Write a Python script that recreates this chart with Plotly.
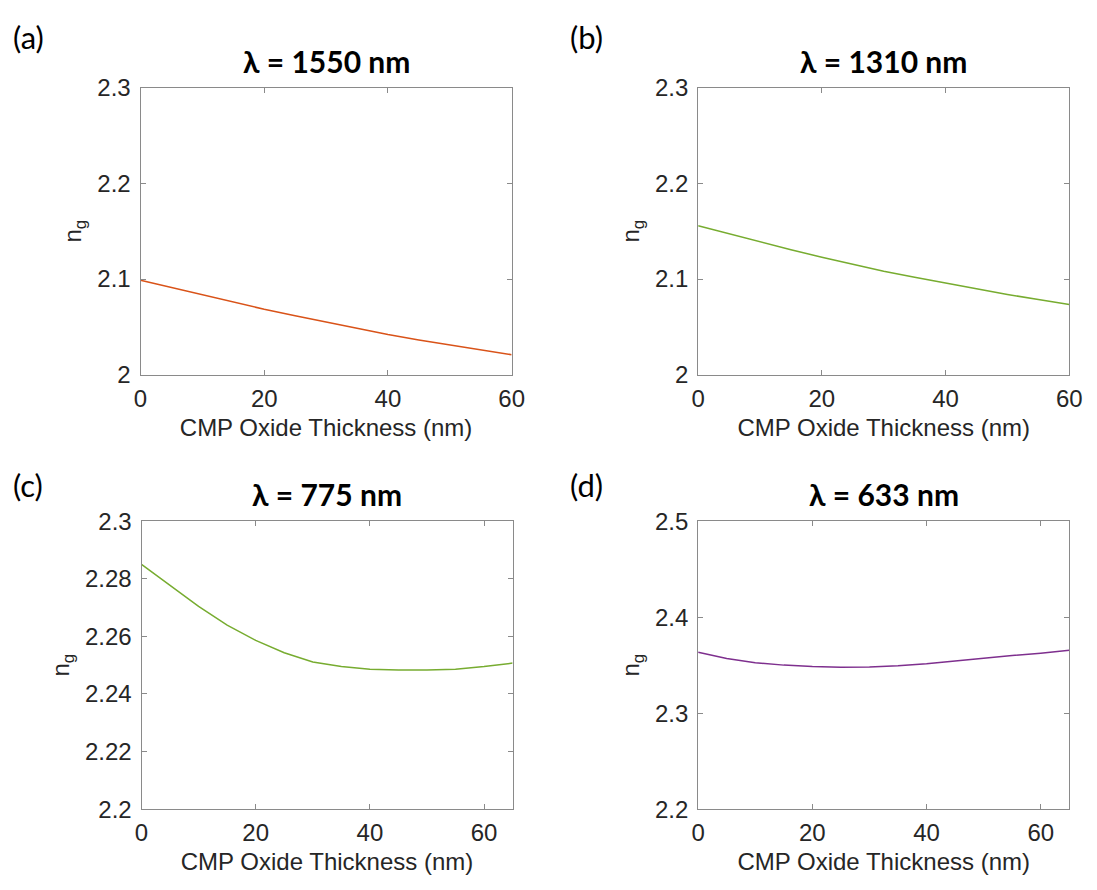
import plotly.graph_objects as go

W, H = 1097, 890

# ---- data ----
x_a = [0, 5, 10, 15, 20, 25, 30, 35, 40, 45, 50, 55, 60]
ng_a = [2.0988, 2.0912, 2.0839, 2.0760, 2.0684, 2.0616, 2.0550, 2.0484,
        2.0421, 2.0364, 2.0310, 2.0258, 2.0209]

x_b = [0, 5, 10, 15, 20, 25, 30, 35, 40, 45, 50, 55, 60]
ng_b = [2.1556, 2.1470, 2.1387, 2.1306, 2.1228, 2.1153, 2.1082, 2.1018,
        2.0957, 2.0896, 2.0839, 2.0785, 2.0734]

x_c = [0, 5, 10, 15, 20, 25, 30, 35, 40, 45, 50, 55, 60, 65]
ng_c = [2.2850, 2.2777, 2.2704, 2.2639, 2.2586, 2.2543, 2.2511, 2.2495,
        2.2486, 2.2483, 2.2483, 2.2486, 2.2495, 2.2507]

x_d = [0, 5, 10, 15, 20, 25, 30, 35, 40, 45, 50, 55, 60, 65]
ng_d = [2.3634, 2.3570, 2.3525, 2.3500, 2.3485, 2.3479, 2.3481, 2.3494,
        2.3515, 2.3545, 2.3576, 2.3600, 2.3624, 2.3654]

titles = ["λ = 1550 nm", "λ = 1310 nm", "λ = 775 nm", "λ = 633 nm"]
panel_labels = ["(a)", "(b)", "(c)", "(d)"]
colors = ["#D95319", "#77AC30", "#77AC30", "#7E2F8E"]

x_ticks = [0, 20, 40, 60]
y_ticks_ab = [2.0, 2.1, 2.2, 2.3]
y_ticktext_ab = ["2", "2.1", "2.2", "2.3"]
y_ticks_c = [2.2, 2.22, 2.24, 2.26, 2.28, 2.3]
y_ticktext_c = ["2.2", "2.22", "2.24", "2.26", "2.28", "2.3"]
y_ticks_d = [2.2, 2.3, 2.4, 2.5]
y_ticktext_d = ["2.2", "2.3", "2.4", "2.5"]

x_ranges = [[0, 60], [0, 60], [0, 65], [0, 65]]
y_ranges = [[2.0, 2.3], [2.0, 2.3], [2.2, 2.3], [2.2, 2.5]]
y_tick_sets = [(y_ticks_ab, y_ticktext_ab), (y_ticks_ab, y_ticktext_ab),
               (y_ticks_c, y_ticktext_c), (y_ticks_d, y_ticktext_d)]
xs = [x_a, x_b, x_c, x_d]
ys = [ng_a, ng_b, ng_c, ng_d]

# ---- layout geometry (pixels) ----
boxes = [(136, 514, 76, 372), (704, 1082, 76, 372),
         (137, 515, 523, 820), (704, 1082, 523, 820)]

AX_COL = "#8a8a8a"
TXT_COL = "#262626"
FONT = "Liberation Sans, Arial, sans-serif"
TFONT = "Lato, Open Sans, sans-serif"
FS = 24

fig = go.Figure()
layout = dict(
    width=W, height=H, margin=dict(l=0, r=0, t=0, b=0),
    paper_bgcolor="white", plot_bgcolor="white", showlegend=False,
    font=dict(family=FONT, color=TXT_COL, size=FS),
)
annotations = []
for i in range(4):
    n = "" if i == 0 else str(i + 1)
    x0, x1, y0, y1 = boxes[i]
    fig.add_trace(go.Scatter(x=xs[i], y=ys[i], mode="lines",
                             line=dict(color=colors[i], width=1.5),
                             xaxis="x" + n, yaxis="y" + n, hoverinfo="skip"))
    tv, tt = y_tick_sets[i]
    layout["xaxis" + n] = dict(
        domain=[x0 / W, x1 / W], range=x_ranges[i], anchor="y" + n,
        tickvals=x_ticks, ticks="inside", ticklen=5, tickcolor=AX_COL,
        showline=True, linecolor=AX_COL, linewidth=1, mirror="ticks",
        showgrid=False, zeroline=False, tickfont=dict(size=FS, color=TXT_COL),
        ticklabelstandoff=2,
        title=dict(text="CMP Oxide Thickness (nm)", font=dict(size=FS, color=TXT_COL), standoff=8),
    )
    layout["yaxis" + n] = dict(
        domain=[1 - y1 / H, 1 - y0 / H], range=y_ranges[i], anchor="x" + n,
        tickvals=tv, ticktext=tt, ticks="inside", ticklen=5, tickcolor=AX_COL,
        showline=True, linecolor=AX_COL, linewidth=1, mirror="ticks",
        showgrid=False, zeroline=False, tickfont=dict(size=FS, color=TXT_COL),
        ticklabelstandoff=4,
        title=dict(text="n<sub>g</sub>", font=dict(size=FS, color=TXT_COL), standoff=8),
    )
    # panel title
    annotations.append(dict(text="<b>" + titles[i] + "</b>", x=(x0 + x1) / 2 / W,
                            y=1 - (y0 - 28) / H, xref="paper", yref="paper",
                            xanchor="center", yanchor="middle", showarrow=False,
                            font=dict(family=TFONT, size=30, color="black")))
    # panel label
    lx = 4 if i in (0, 2) else 571
    ly = 24 if i < 2 else 486
    annotations.append(dict(text=panel_labels[i], x=lx / W, y=1 - ly / H,
                            xref="paper", yref="paper", xanchor="left", yanchor="middle",
                            showarrow=False, font=dict(family=TFONT, size=31, color="black")))
layout["annotations"] = annotations
fig.update_layout(**layout)
fig.write_html("out.html")
